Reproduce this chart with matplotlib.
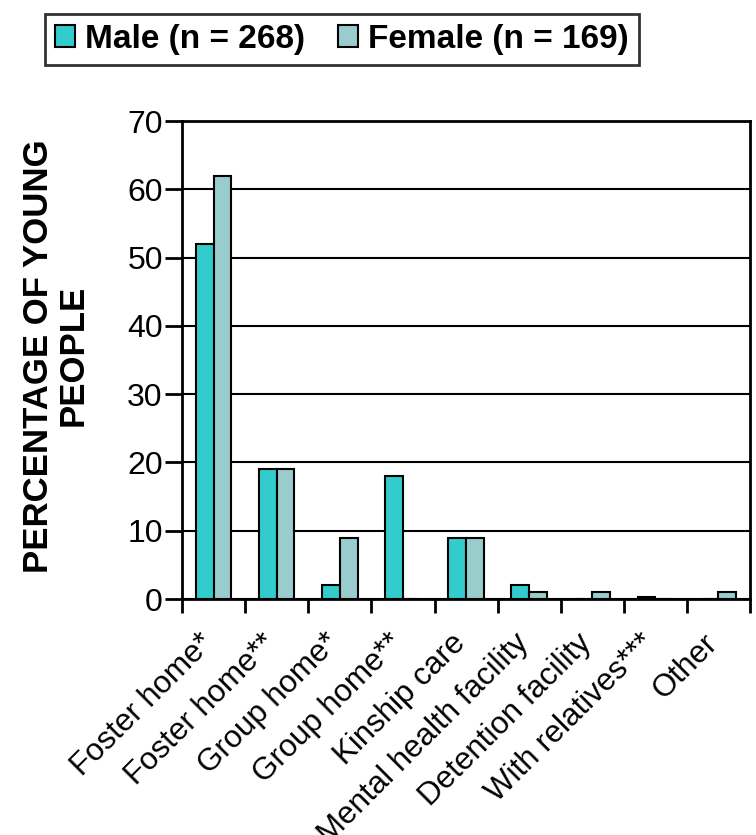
import matplotlib.pyplot as plt
import numpy as np

plt.rcParams['font.family'] = ['Liberation Sans', 'DejaVu Sans']

categories = ['Foster home*', 'Foster home**', 'Group home*', 'Group home**',
              'Kinship care', 'Mental health facility', 'Detention facility',
              'With relatives***', 'Other']
male = [52, 19, 2, 18, 9, 2, 0, 0.3, 0]
female = [62, 19, 9, 0, 9, 1, 1, 0, 1]
series_labels = ['Male (n = 268)', 'Female (n = 169)']
colors = ['#33CCCC', '#99CCCC']

fig = plt.figure(figsize=(7.56, 8.35), dpi=100)
ax = fig.add_axes([0.241, 0.2826, 0.751, 0.5724])

x = np.arange(len(categories))
w = 0.28
b1 = ax.bar(x - w / 2, male, w, color=colors[0], edgecolor='black', linewidth=1.5,
            label=series_labels[0], zorder=3)
b2 = ax.bar(x + w / 2, female, w, color=colors[1], edgecolor='black', linewidth=1.5,
            label=series_labels[1], zorder=3)

ax.set_xlim(-0.5, len(categories) - 0.5)
ax.set_ylim(0, 70)
ax.set_yticks(range(0, 71, 10))
ax.yaxis.grid(True, color='black', linewidth=1.5, zorder=0)
ax.set_axisbelow(True)

# ticks at group boundaries, labels at group centres
ax.set_xticks(np.arange(-0.5, len(categories)))
ax.set_xticklabels([])
ax.tick_params(axis='x', direction='out', length=10, width=2)
ax.tick_params(axis='y', direction='out', length=12, width=2, labelsize=23, pad=2)
for i, lab in enumerate(categories):
    ax.text(i - 0.08, -5.8, lab, rotation=45, rotation_mode='anchor',
            ha='right', va='center', fontsize=22.5)

for s in ['left', 'bottom', 'right', 'top']:
    ax.spines[s].set_linewidth(2)

fig.text(0.074, 0.574, 'PERCENTAGE OF YOUNG\nPEOPLE', rotation=90,
         ha='center', va='center', multialignment='center',
         fontsize=25, fontweight='bold', linespacing=1.05)

leg = fig.legend(handles=[b1, b2], loc='center', bbox_to_anchor=(0.452, 0.953),
                 ncol=2, frameon=True, fancybox=False, edgecolor='black',
                 prop={'size': 24, 'weight': 'bold'}, handlelength=0.6,
                 handleheight=0.6, handletextpad=0.3, columnspacing=1.0,
                 borderpad=0.3)
leg.get_frame().set_linewidth(2)

fig.savefig('out.png', dpi=100)
